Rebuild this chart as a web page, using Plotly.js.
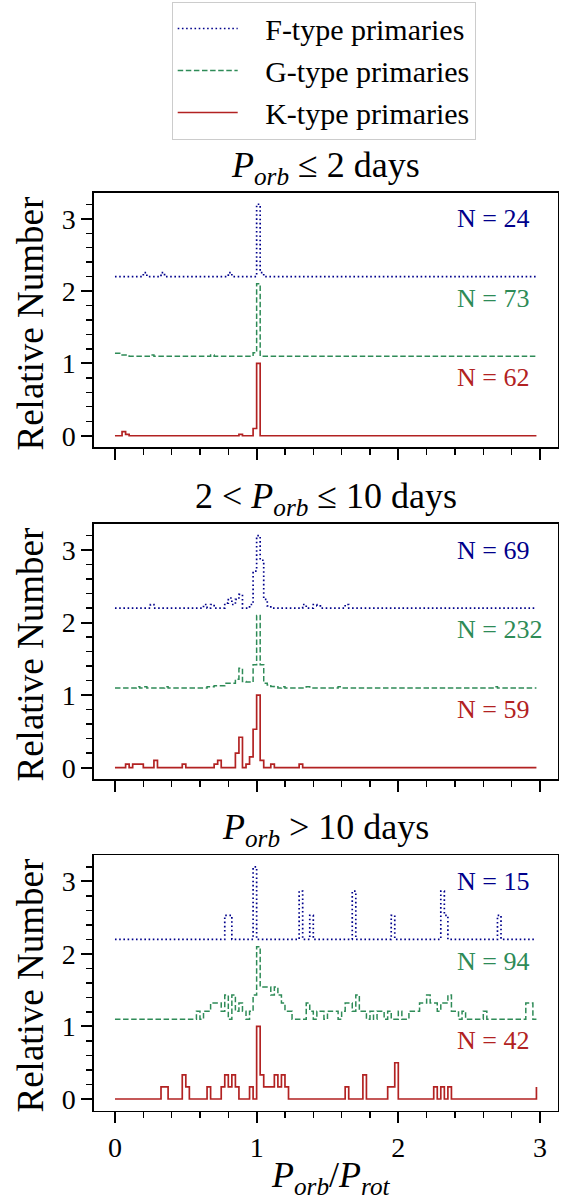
<!DOCTYPE html>
<html>
<head>
<meta charset="utf-8">
<script src="https://cdn.plot.ly/plotly-3.0.1.min.js"></script>
<style>
html, body { margin: 0; padding: 0; background: #ffffff; }
#chart { width: 566px; height: 1199px; }
</style>
</head>
<body>
<div id="chart"></div>
<script>
// ---------------- DATA ----------------
// Histogram grid: 120 bins of width 0.025 over 0..3 (left edges used with step 'hv')
const binWidth = 0.025;
const nBins = 120;

const seriesNames = ['F-type primaries', 'G-type primaries', 'K-type primaries'];
const seriesKeys = ['F', 'G', 'K'];
const seriesOffsets = [2.2, 1.1, 0.0];
const seriesColors = ['#00008B', '#2E8B57', '#B22222'];

const panelTitles = [
  '<i>P</i><sub><i>orb</i></sub> ≤ 2 days',
  '2 &lt; <i>P</i><sub><i>orb</i></sub> ≤ 10 days',
  '<i>P</i><sub><i>orb</i></sub> &gt; 10 days'
];
// N per panel, order F, G, K
const panelN = [
  [24, 73, 62],
  [69, 232, 59],
  [15, 94, 42]
];

// Sparse histograms: bin index -> relative number (peak normalised to 1)
// Panel 1: P_orb <= 2 days
const p1F_bins = [8, 13, 32, 40, 41];
const p1F_vals = [0.056, 0.056, 0.056, 1.0, 0.056];
const p1G_bins = [0, 1, 2, 3, 10, 27, 39, 40];
const p1G_vals = [0.04, 0.04, 0.016, 0.016, 0.016, 0.016, 0.048, 1.0];
const p1K_bins = [2, 3, 35, 39, 40];
const p1K_vals = [0.058, 0.02, 0.02, 0.1, 1.0];

// Panel 2: 2 < P_orb <= 10 days
const p2F_bins = [10, 25, 27, 31, 32, 33, 34, 35, 38, 39, 40, 41, 42, 43, 53, 56, 57, 65];
const p2F_vals = [0.05, 0.05, 0.05, 0.07, 0.14, 0.05, 0.12, 0.19, 0.05, 0.51, 1.0, 0.66, 0.12, 0.03, 0.05, 0.05, 0.03, 0.05];
const p2G_bins = [6, 8, 14, 26, 27, 28, 29, 30, 31, 32, 33, 34, 35, 36, 37, 38, 39, 40, 41, 42, 43, 44, 45, 47, 54, 63, 107];
const p2G_vals = [0.015, 0.015, 0.015, 0.015, 0.015, 0.03, 0.03, 0.03, 0.065, 0.065, 0.065, 0.12, 0.27, 0.09, 0.08, 0.08, 0.32, 1.0, 0.32, 0.065, 0.04, 0.02, 0.015, 0.015, 0.015, 0.015, 0.015];
const p2K_bins = [3, 5, 6, 7, 11, 19, 28, 29, 34, 35, 37, 38, 39, 40, 41, 44, 52];
const p2K_vals = [0.05, 0.05, 0.05, 0.05, 0.1, 0.05, 0.05, 0.1, 0.2, 0.42, 0.05, 0.15, 0.53, 1.0, 0.1, 0.05, 0.05];

// Panel 3: P_orb > 10 days
const p3F_bins = [31, 32, 39, 52, 55, 67, 78, 92, 93, 108];
const p3F_vals = [0.333, 0.333, 1.0, 0.667, 0.333, 0.667, 0.333, 0.667, 0.333, 0.333];
const p3G_bins = [23, 25, 26, 27, 28, 29, 30, 31, 33, 34, 35, 36, 38, 39, 40, 41, 42, 43, 44, 45, 46, 47, 48, 49,
                  54, 55, 57, 58, 60, 61, 62, 64, 65, 66, 67, 68, 69, 70, 72, 74, 75, 77, 80, 83, 84, 85, 86, 87,
                  88, 89, 90, 91, 92, 93, 94, 95, 96, 98, 104, 116, 117];
const p3G_vals = [0.111, 0.111, 0.111, 0.222, 0.222, 0.222, 0.111, 0.333, 0.333, 0.111, 0.222, 0.111, 0.111, 0.333, 1.0, 0.444, 0.444, 0.444, 0.333, 0.444, 0.333, 0.222, 0.111, 0.111,
                  0.222, 0.111, 0.111, 0.111, 0.111, 0.111, 0.111, 0.111, 0.222, 0.222, 0.111, 0.333, 0.111, 0.111, 0.111, 0.111, 0.111, 0.111, 0.111, 0.111, 0.111, 0.111, 0.222, 0.222,
                  0.333, 0.222, 0.222, 0.111, 0.222, 0.222, 0.333, 0.111, 0.111, 0.111, 0.111, 0.222, 0.222];
const p3K_bins = [13, 14, 19, 20, 26, 30, 31, 32, 33, 34, 38, 40, 41, 42, 43, 44, 45, 46, 47, 48, 65, 70, 77, 78, 79, 90, 92, 94, 119];
const p3K_vals = [0.167, 0.167, 0.333, 0.167, 0.167, 0.167, 0.333, 0.167, 0.333, 0.167, 0.167, 1.0, 0.333, 0.167, 0.167, 0.167, 0.333, 0.167, 0.333, 0.167, 0.167, 0.333, 0.167, 0.167, 0.5, 0.167, 0.167, 0.167, 0.167];

const panelData = [
  [[p1F_bins, p1F_vals], [p1G_bins, p1G_vals], [p1K_bins, p1K_vals]],
  [[p2F_bins, p2F_vals], [p2G_bins, p2G_vals], [p2K_bins, p2K_vals]],
  [[p3F_bins, p3F_vals], [p3G_bins, p3G_vals], [p3K_bins, p3K_vals]]
];

// ---------------- BUILD ----------------
const binLeft = Array.from({length: nBins}, (_, i) => +(i * binWidth).toFixed(4));
const serif = '"Liberation Serif", "DejaVu Serif", serif';
const lineStyles = [
  {dash: '1.6px,2.6px', width: 1.7},
  {dash: '5.5px,2.6px', width: 1.5},
  {dash: 'solid', width: 1.7}
];

const traces = [];
panelData.forEach((panel, p) => {
  const sfx = p === 0 ? '' : String(p + 1);
  panel.forEach(([bins, vals], s) => {
    const dense = new Array(nBins).fill(0);
    bins.forEach((b, k) => { dense[b] = vals[k]; });
    traces.push({
      type: 'scatter', mode: 'lines',
      x: binLeft,
      y: dense.map(v => v + seriesOffsets[s]),
      xaxis: 'x' + sfx, yaxis: 'y' + sfx,
      name: '&nbsp;&nbsp;&nbsp;' + seriesNames[s],
      legendgroup: seriesKeys[s],
      showlegend: p === 0,
      line: {shape: 'hv', color: seriesColors[s], width: lineStyles[s].width, dash: lineStyles[s].dash},
      hoverinfo: 'skip'
    });
  });
});

const W = 566, H = 1199;
const xDom = [93.9 / W, 557.5 / W];
const yDoms = [
  [(H - 447.3) / H, (H - 192.7) / H],
  [(H - 779.3) / H, (H - 524.0) / H],
  [(H - 1110.6) / H, (H - 855.3) / H]
];

const tickFont = {family: serif, size: 28, color: '#000'};
function makeX(p) {
  return {
    domain: xDom, range: [-0.14875, 3.12375], anchor: p === 0 ? 'y' : 'y' + (p + 1),
    tickvals: [0, 1, 2, 3], ticktext: ['0', '1', '2', '3'],
    ticks: 'outside', ticklen: 11, tickwidth: 2, tickcolor: '#000',
    minor: {ticks: 'outside', ticklen: 6, tickwidth: 1.4, tickcolor: '#000', dtick: 0.2, tick0: 0, showgrid: false},
    showticklabels: p === 2, tickfont: tickFont,
    showline: true, linecolor: '#000', linewidth: 1.6, mirror: true,
    showgrid: false, zeroline: false, fixedrange: true
  };
}
function makeY(p) {
  return {
    domain: yDoms[p], range: [-0.16, 3.36], anchor: p === 0 ? 'x' : 'x' + (p + 1),
    tickvals: [0, 1, 2, 3], ticktext: ['0', '1', '2', '3'],
    ticks: 'outside', ticklen: 11, tickwidth: 2, tickcolor: '#000',
    minor: {ticks: 'outside', ticklen: 6, tickwidth: 1.4, tickcolor: '#000', dtick: 0.2, tick0: 0, showgrid: false},
    tickfont: tickFont,
    showline: true, linecolor: '#000', linewidth: 1.6, mirror: true,
    showgrid: false, zeroline: false, fixedrange: true
  };
}

const annotations = [];
const titleYs = [167, 498, 829];
const ylabYs = [324, 655, 986];
panelTitles.forEach((t, p) => {
  annotations.push({
    text: t, xref: 'paper', yref: 'paper', x: 325.7 / W, y: 1 - titleYs[p] / H,
    xanchor: 'center', yanchor: 'middle', showarrow: false,
    font: {family: serif, size: 36, color: '#000'}
  });
  annotations.push({
    text: 'Relative Number', xref: 'paper', yref: 'paper', x: 29.5 / W, y: 1 - ylabYs[p] / H,
    xanchor: 'center', yanchor: 'middle', textangle: -90, showarrow: false,
    font: {family: serif, size: 37, color: '#000'}
  });
  const sfx = p === 0 ? '' : String(p + 1);
  panelN[p].forEach((n, s) => {
    annotations.push({
      text: 'N = ' + n, xref: 'x' + sfx, yref: 'y' + sfx, x: 2.4, y: seriesOffsets[s] + 0.8,
      xanchor: 'left', yanchor: 'middle', showarrow: false,
      font: {family: serif, size: 26, color: seriesColors[s]}
    });
  });
});
annotations.push({
  text: '<i>P</i><sub><i>orb</i></sub>/<i>P</i><sub><i>rot</i></sub>',
  xref: 'paper', yref: 'paper', x: 330 / W, y: 1 - 1177 / H,
  xanchor: 'center', yanchor: 'middle', showarrow: false,
  font: {family: serif, size: 36, color: '#000'}
});

const layout = {
  width: W, height: H,
  margin: {l: 0, r: 0, t: 0, b: 0},
  paper_bgcolor: '#ffffff', plot_bgcolor: '#ffffff',
  font: {family: serif, color: '#000'},
  xaxis: makeX(0), yaxis: makeY(0),
  xaxis2: makeX(1), yaxis2: makeY(1),
  xaxis3: makeX(2), yaxis3: makeY(2),
  showlegend: true,
  legend: {
    x: 171.7 / W, y: 1 - 1.5 / H, xanchor: 'left', yanchor: 'top',
    bgcolor: '#ffffff', bordercolor: '#cccccc', borderwidth: 1,
    font: {family: serif, size: 30, color: '#000'},
    tracegroupgap: 4, itemwidth: 60, traceorder: 'normal'
  },
  annotations: annotations
};

Plotly.newPlot('chart', traces, layout, {staticPlot: true, displayModeBar: false});
</script>
</body>
</html>
